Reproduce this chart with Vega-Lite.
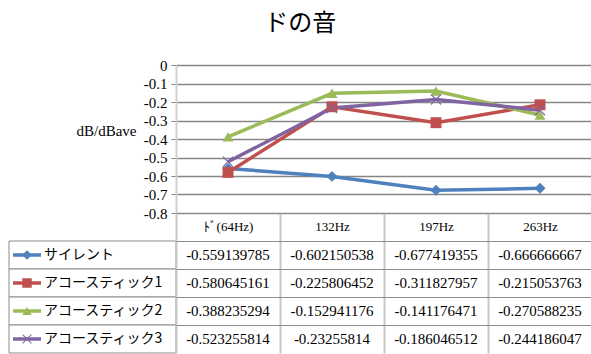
{
  "$schema": "https://vega.github.io/schema/vega-lite/v6.json",
  "padding": {"left": 8, "top": 12, "right": 0, "bottom": 0},
  "background": "white",
  "title": {"text": "ドの音", "anchor": "middle", "fontSize": 24, "font": "Noto Sans CJK JP", "fontWeight": "normal", "color": "#000000", "offset": 22},
  "datasets": {
    "d": [
      {"series": "サイレント", "freq": "ﾄﾞ(64Hz)", "value": -0.559139785},
      {"series": "サイレント", "freq": "132Hz", "value": -0.602150538},
      {"series": "サイレント", "freq": "197Hz", "value": -0.677419355},
      {"series": "サイレント", "freq": "263Hz", "value": -0.666666667},
      {"series": "アコースティック1", "freq": "ﾄﾞ(64Hz)", "value": -0.580645161},
      {"series": "アコースティック1", "freq": "132Hz", "value": -0.225806452},
      {"series": "アコースティック1", "freq": "197Hz", "value": -0.311827957},
      {"series": "アコースティック1", "freq": "263Hz", "value": -0.215053763},
      {"series": "アコースティック2", "freq": "ﾄﾞ(64Hz)", "value": -0.388235294},
      {"series": "アコースティック2", "freq": "132Hz", "value": -0.152941176},
      {"series": "アコースティック2", "freq": "197Hz", "value": -0.141176471},
      {"series": "アコースティック2", "freq": "263Hz", "value": -0.270588235},
      {"series": "アコースティック3", "freq": "ﾄﾞ(64Hz)", "value": -0.523255814},
      {"series": "アコースティック3", "freq": "132Hz", "value": -0.23255814},
      {"series": "アコースティック3", "freq": "197Hz", "value": -0.186046512},
      {"series": "アコースティック3", "freq": "263Hz", "value": -0.244186047}
    ]
  },
  "data": {"name": "d"},
  "columns": 2,
  "spacing": 0,
  "bounds": "flush",
  "resolve": {"scale": {"x": "independent", "y": "independent"}},
  "concat": [
    {
      "width": 167,
      "height": 148,
      "transform": [{"filter": "datum.freq === '132Hz' && datum.series === 'サイレント'"}],
      "mark": {"type": "text"},
      "encoding": {"text": {"value": ""}}
    },
    {
      "width": 416,
      "height": 148,
      "encoding": {
        "x": {
          "field": "freq", "type": "nominal",
          "scale": {"type": "point", "padding": 0.5, "domain": ["ﾄﾞ(64Hz)", "132Hz", "197Hz", "263Hz"]},
          "axis": {"title": null, "labelAngle": 0, "ticks": false, "domain": false, "grid": false, "labelFontSize": 13, "labelPadding": 7, "labelColor": "#000000", "labelFont": "Liberation Serif, Noto Sans CJK JP"}
        },
        "y": {
          "field": "value", "type": "quantitative",
          "scale": {"domain": [-0.8, 0], "nice": false, "zero": false},
          "axis": {
            "values": [0, -0.1, -0.2, -0.3, -0.4, -0.5, -0.6, -0.7, -0.8],
            "labelExpr": "datum.value == 0 ? '0' : '-' + format(-datum.value, '.1f')",
            "title": "dB/dBave", "titleAngle": 0, "titleX": -70, "titleY": 65, "titleAlign": "center", "titleBaseline": "middle",
            "titleFontSize": 15, "titleFontWeight": "normal", "titleFont": "Liberation Serif", "titleColor": "#000000",
            "labelFontSize": 15, "labelFont": "Liberation Serif", "labelColor": "#000000", "labelPadding": 4,
            "gridColor": "#868686", "gridWidth": 1.5, "gridOpacity": 1,
            "domainColor": "#d0d0d0", "domainWidth": 2,
            "tickColor": "#868686", "tickSize": 5
          }
        },
        "color": {
          "field": "series", "type": "nominal", "legend": null,
          "scale": {"domain": ["サイレント", "アコースティック1", "アコースティック2", "アコースティック3"], "range": ["#4F81BD", "#C0504D", "#9BBB59", "#8064A2"]}
        }
      },
      "layer": [
        {"mark": {"type": "line", "strokeWidth": 3.5}},
        {
          "mark": {"type": "point", "filled": true, "opacity": 1, "size": 120},
          "encoding": {
            "shape": {
              "field": "series", "type": "nominal", "legend": null,
              "scale": {"domain": ["サイレント", "アコースティック1", "アコースティック2", "アコースティック3"], "range": ["diamond", "square", "triangle-up", "M-1,-0.85L-0.85,-1L0,-0.15L0.85,-1L1,-0.85L0.15,0L1,0.85L0.85,1L0,0.15L-0.85,1L-1,0.85L-0.15,0Z"]}
            }
          }
        }
      ]
    },
    {
      "width": 167,
      "height": 140,
      "transform": [{"filter": "datum.freq === 'ﾄﾞ(64Hz)'"}],
      "encoding": {
        "y": {
          "field": "series", "type": "nominal",
          "scale": {"type": "band", "domain": ["hdr", "サイレント", "アコースティック1", "アコースティック2", "アコースティック3"], "paddingInner": 0, "paddingOuter": 0},
          "axis": null
        }
      },
      "layer": [
        {
          "mark": {"type": "rect", "fill": "white", "stroke": "#8c8c8c", "strokeWidth": 1},
          "encoding": {
            "x": {"datum": 0, "type": "quantitative", "scale": {"domain": [0, 167], "nice": false, "zero": false}, "axis": null},
            "x2": {"datum": 167}
          }
        },
        {
          "mark": {"type": "rule", "strokeWidth": 3.5},
          "encoding": {
            "x": {"datum": 4, "type": "quantitative"},
            "x2": {"datum": 32},
            "color": {"field": "series", "type": "nominal", "legend": null}
          }
        },
        {
          "mark": {"type": "point", "filled": true, "opacity": 1, "size": 90},
          "encoding": {
            "x": {"datum": 18, "type": "quantitative"},
            "color": {"field": "series", "type": "nominal", "legend": null},
            "shape": {"field": "series", "type": "nominal", "legend": null}
          }
        },
        {
          "mark": {"type": "text", "align": "left", "baseline": "middle", "fontSize": 14, "font": "Noto Sans CJK JP", "color": "#000000"},
          "encoding": {
            "x": {"datum": 35, "type": "quantitative"},
            "text": {"field": "series"}
          }
        }
      ]
    },
    {
      "width": 416,
      "height": 140,
      "mark": {"type": "text", "fontSize": 15, "font": "Liberation Serif", "color": "#000000"},
      "encoding": {
        "x": {
          "field": "freq", "type": "nominal",
          "scale": {"type": "band", "domain": ["ﾄﾞ(64Hz)", "132Hz", "197Hz", "263Hz"], "paddingInner": 0, "paddingOuter": 0},
          "axis": {"orient": "top", "labels": false, "ticks": false, "domain": false, "grid": true, "gridColor": "#c8c8c8", "gridWidth": 2, "gridOpacity": 1, "bandPosition": 0, "title": null}
        },
        "y": {
          "field": "series", "type": "nominal",
          "scale": {"type": "band", "domain": ["hdr", "サイレント", "アコースティック1", "アコースティック2", "アコースティック3"], "paddingInner": 0, "paddingOuter": 0},
          "axis": {"labels": false, "ticks": false, "domain": false, "grid": true, "gridColor": "#8c8c8c", "gridWidth": 1, "gridOpacity": 1, "bandPosition": 0, "title": null}
        },
        "text": {"field": "value", "type": "nominal"}
      }
    }
  ],
  "config": {"view": {"stroke": null}, "font": "Liberation Serif"}
}
